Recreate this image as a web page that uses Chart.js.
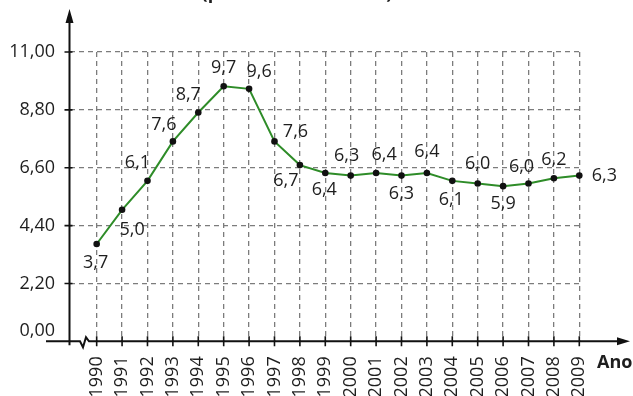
<!DOCTYPE html>
<html>
<head>
<meta charset="utf-8">
<script src="https://cdn.jsdelivr.net/npm/chart.js@4.4.1/dist/chart.umd.min.js"></script>
<style>
  html, body { margin: 0; padding: 0; background: #fff; }
  canvas { display: block; }
</style>
</head>
<body>
<canvas id="chart" width="633" height="396"></canvas>
<script>
// Series: yearly rate, 1990-2009
const years = [1990, 1991, 1992, 1993, 1994, 1995, 1996, 1997, 1998, 1999,
               2000, 2001, 2002, 2003, 2004, 2005, 2006, 2007, 2008, 2009];
const rates = [3.7, 5.0, 6.1, 7.6, 8.7, 9.7, 9.6, 7.6, 6.7, 6.4,
               6.3, 6.4, 6.3, 6.4, 6.1, 6.0, 5.9, 6.0, 6.2, 6.3];
const yTicks = [0, 2.2, 4.4, 6.6, 8.8, 11];
const titleText = '(por 1000 habitantes)';
const xAxisName = 'Ano';

// Where each value label sits relative to its point (dx, dy in px)
const labelOffsets = [
  [-1, 19], [10, 20], [-10, -18], [-9, -17], [-10, -18],
  [0, -18], [10, -17], [21, -10], [-14, 16], [-1, 17],
  [-4, -20], [8, -18], [0, 18], [0, -21], [-1, 19],
  [0, -20], [0, 18], [-7, -17], [0, -18], [25, 0]
];

const FONT = '"Open Sans", "Noto Sans", sans-serif';
const TEXT = '#1e1e1e';
const fmt = (v, d) => v.toFixed(d).replace('.', ',');

// Value labels next to each point
const valueLabels = {
  id: 'valueLabels',
  afterDatasetsDraw(chart) {
    const ctx = chart.ctx;
    const meta = chart.getDatasetMeta(0);
    ctx.save();
    ctx.font = '18px ' + FONT;
    ctx.fillStyle = TEXT;
    ctx.textAlign = 'center';
    ctx.textBaseline = 'middle';
    meta.data.forEach((pt, i) => {
      const [dx, dy] = labelOffsets[i];
      ctx.fillText(fmt(rates[i], 1), pt.x + dx, pt.y + dy);
    });
    ctx.restore();
  }
};

// Arrowed axes, tick marks, axis break, title and axis name
const axesDecor = {
  id: 'axesDecor',
  afterDraw(chart) {
    const ctx = chart.ctx;
    const xs = chart.scales.x, ys = chart.scales.y;
    const ox = xs.left;               // y-axis position
    const oy = ys.getPixelForValue(0); // x-axis position
    ctx.save();
    ctx.strokeStyle = '#111';
    ctx.fillStyle = '#111';
    ctx.lineWidth = 2;

    // y axis with arrow
    ctx.beginPath();
    ctx.moveTo(ox, oy + 4);
    ctx.lineTo(ox, 20);
    ctx.stroke();
    ctx.beginPath();
    ctx.moveTo(ox, 9);
    ctx.lineTo(ox - 4, 23);
    ctx.lineTo(ox + 4, 23);
    ctx.closePath();
    ctx.fill();

    // x axis with break mark and arrow
    ctx.beginPath();
    ctx.moveTo(46, oy);
    ctx.lineTo(80, oy);
    ctx.lineTo(83, oy + 6);
    ctx.lineTo(86, oy - 4);
    ctx.lineTo(89, oy);
    ctx.lineTo(620, oy);
    ctx.stroke();
    ctx.beginPath();
    ctx.moveTo(630, oy);
    ctx.lineTo(617, oy - 4);
    ctx.lineTo(617, oy + 4);
    ctx.closePath();
    ctx.fill();

    // tick marks
    ctx.lineWidth = 1.6;
    ctx.beginPath();
    years.forEach(y => {
      const px = xs.getPixelForValue(y);
      ctx.moveTo(px, oy - 5);
      ctx.lineTo(px, oy + 5);
    });
    yTicks.slice(1).forEach(v => {
      const py = ys.getPixelForValue(v);
      ctx.moveTo(ox - 5, py);
      ctx.lineTo(ox + 3, py);
    });
    ctx.stroke();

    // axis name
    ctx.fillStyle = TEXT;
    ctx.font = 'bold 18px ' + FONT;
    ctx.textAlign = 'left';
    ctx.textBaseline = 'middle';
    ctx.fillText(xAxisName, 597, 363);

    // title (runs off the top edge)
    ctx.textAlign = 'center';
    ctx.textBaseline = 'alphabetic';
    ctx.fillText(titleText, 297, -1);
    ctx.restore();
  }
};

new Chart(document.getElementById('chart'), {
  type: 'line',
  data: {
    datasets: [{
      data: years.map((y, i) => ({ x: y, y: rates[i] })),
      borderColor: '#2e8c28',
      borderWidth: 2,
      pointBackgroundColor: '#111',
      pointBorderColor: '#111',
      pointRadius: 3.3,
      pointBorderWidth: 0,
      tension: 0,
      clip: false
    }]
  },
  options: {
    responsive: false,
    animation: false,
    devicePixelRatio: 1,
    layout: { padding: { top: 52, right: 53.7, left: 0, bottom: 0 } },
    plugins: {
      legend: { display: false },
      tooltip: { enabled: false },
      title: { display: false }
    },
    scales: {
      x: {
        type: 'linear',
        min: 1988.93,
        max: 2009,
        afterBuildTicks: s => { s.ticks = years.map(v => ({ value: v })); },
        afterFit: s => { s.height = 54.7; },
        grid: {
          color: '#7c7c7c',
          lineWidth: 1.3,
          drawTicks: false
        },
        border: { display: false, dash: [5, 4] },
        ticks: {
          autoSkip: false,
          minRotation: 90,
          maxRotation: 90,
          padding: 15,
          color: TEXT,
          font: { family: FONT, size: 18 },
          callback: v => String(v)
        }
      },
      y: {
        min: 0,
        max: 11,
        afterBuildTicks: s => { s.ticks = yTicks.map(v => ({ value: v })); },
        afterFit: s => { s.width = 69.5; },
        grid: {
          color: c => (c.tick && c.tick.value === 0) ? 'rgba(0,0,0,0)' : '#7c7c7c',
          lineWidth: 1.3,
          drawTicks: false
        },
        border: { display: false, dash: [5, 4] },
        ticks: {
          padding: 14.5,
          color: TEXT,
          font: { family: FONT, size: 18 },
          // the origin label is lifted clear of the horizontal axis line
          callback: v => v === 0 ? [fmt(v, 2), ''] : fmt(v, 2)
        }
      }
    }
  },
  plugins: [valueLabels, axesDecor]
});
</script>
</body>
</html>
